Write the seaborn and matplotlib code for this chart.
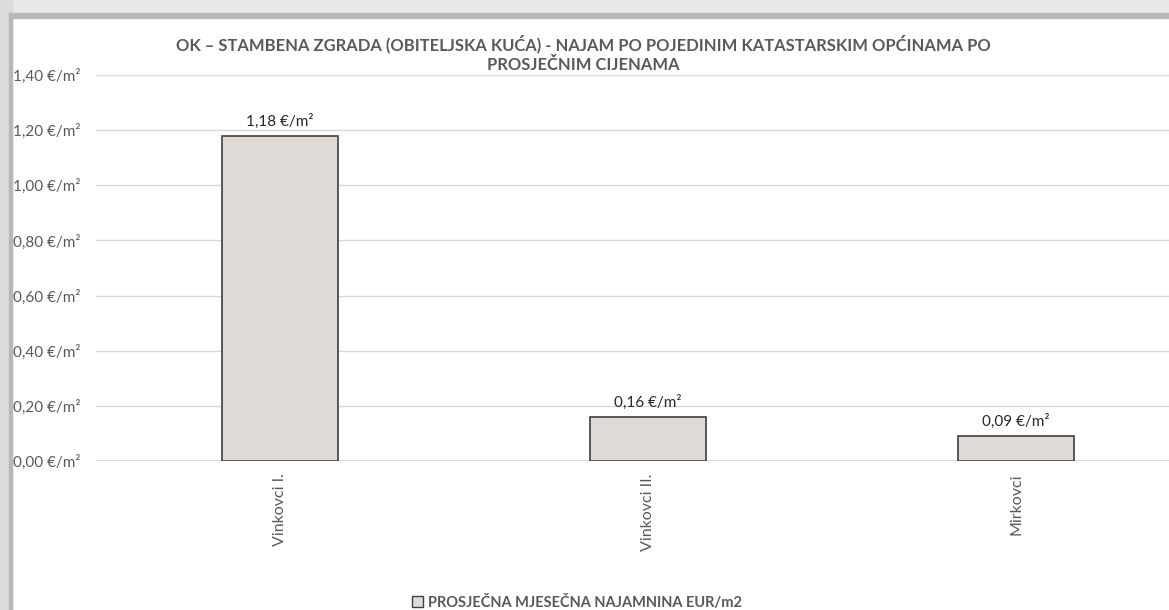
import numpy as np
import pandas as pd
import matplotlib
matplotlib.use("Agg")
import matplotlib.pyplot as plt
import matplotlib.patches as mpatches
import seaborn as sns

# podaci
opcine = ["Vinkovci I.", "Vinkovci II.", "Mirkovci"]
najam = [1.18, 0.16, 0.09]
serija = "PROSJEČNA MJESEČNA NAJAMNINA EUR/m2"
naslov = "OK – STAMBENA ZGRADA (OBITELJSKA KUĆA) - NAJAM PO POJEDINIM KATASTARSKIM OPĆINAMA PO\nPROSJEČNIM CIJENAMA"

df = pd.DataFrame({"opcina": opcine, "najam": najam, "serija": serija})

sns.set_style("white")
plt.rcParams["font.family"] = ["Lato", "DejaVu Sans"]

gray_txt = "#595959"
fill = "#E2DAD4"

fig = plt.figure(figsize=(11.69, 6.10), dpi=100)

# okvir / sjena kao u originalu
fig.add_artist(mpatches.Rectangle((0, 1 - 18 / 610), 1, 18 / 610, transform=fig.transFigure,
                                  color="#e8e8e8", zorder=0))
fig.add_artist(mpatches.Rectangle((0, 1 - 18 / 610), 1, 5 / 610, transform=fig.transFigure,
                                  color="#b8b8b8", zorder=0))
fig.add_artist(mpatches.Rectangle((0, 0), 12 / 1169, 1, transform=fig.transFigure,
                                  color="#dcdcdc", zorder=0))
fig.add_artist(mpatches.Rectangle((9 / 1169, 0), 3 / 1169, 1 - 13 / 610, transform=fig.transFigure,
                                  color="#b8b8b8", zorder=0))

ax = fig.add_axes([96 / 1169, 1 - 461 / 610, (1200 - 96) / 1169, (461 - 75) / 610])
sns.barplot(data=df, x="opcina", y="najam", hue="serija", ax=ax, width=0.315,
            palette=[fill], edgecolor="#404040", linewidth=1.2, legend=False, zorder=3)

ax.set_ylim(0, 1.4)
ax.set_xlim(-0.5, 2.5)
ax.set_yticks(np.arange(0, 1.41, 0.2))
ax.set_yticklabels([f"{v:.2f}".replace(".", ",") + " €/m²" for v in np.arange(0, 1.41, 0.2)],
                   color=gray_txt, fontsize=11)
ax.tick_params(axis="y", length=0, pad=11)
ax.tick_params(axis="x", length=0, pad=9)
ax.set_xticks(range(len(opcine)))
ax.set_xticklabels(opcine, rotation=90, color=gray_txt, fontsize=11.5, va="top")
ax.set_xlabel("")
ax.set_ylabel("")
ax.grid(axis="y", color="#d9d9d9", linewidth=1, zorder=0)
for s in ax.spines.values():
    s.set_visible(False)
ax.axhline(0, color="#d9d9d9", linewidth=1.2, zorder=2)

for i, v in enumerate(najam):
    ax.annotate(f"{v:.2f}".replace(".", ",") + " €/m²", (i, v), xytext=(0, 5),
                textcoords="offset points", ha="center", va="bottom",
                fontsize=11, color="#262626")

fig.text(583 / 1169, 1 - 54 / 610, naslov, ha="center", va="center", fontsize=11.9,
         fontweight="bold", color=gray_txt, linespacing=1.3)

handle = mpatches.Patch(facecolor=fill, edgecolor="#404040", linewidth=1)
fig.legend([handle], [serija], loc="center", bbox_to_anchor=(577 / 1169, 1 - 602 / 610),
           frameon=False, handlelength=0.75, handleheight=0.75, handletextpad=0.3,
           prop={"weight": "bold", "size": 10.5}, labelcolor=gray_txt)

fig.savefig("out.png", dpi=100)
